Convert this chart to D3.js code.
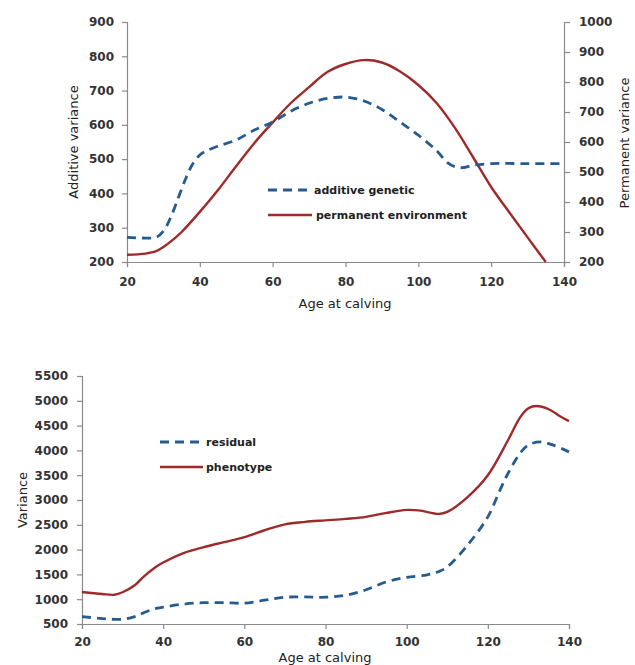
<!DOCTYPE html>
<html><head><meta charset="utf-8">
<script src="https://cdn.jsdelivr.net/npm/d3@7"></script>
<style>
body{margin:0;background:#fff;}
svg{display:block;}
.tick text{font-family:"DejaVu Sans",sans-serif;font-weight:bold;font-size:12px;fill:#333;}
.axis path,.axis line{stroke:#8a8a8a;stroke-width:1.2;}
.title{font-family:"DejaVu Sans",sans-serif;font-size:13px;fill:#222;}
.leg{font-family:"DejaVu Sans",sans-serif;font-weight:bold;font-size:11px;fill:#222;}
</style></head>
<body>
<script>
// ---- Top chart data ----
const topXTicks = [20,40,60,80,100,120,140];
const topLeftTicks = [200,300,400,500,600,700,800,900];
const topRightTicks = [200,300,400,500,600,700,800,900,1000];
const addAges = [20,24,28,30,32,34,36,38,40,42,45,50,55,60,65,70,75,80,85,90,95,100,105,108,110,112,115,120,130,140];
const addVals = [272,270,272,290,330,385,440,485,512,525,538,556,585,608,640,663,677,681,670,645,608,570,525,490,478,475,482,487,487,487];
const permAges = [20,25,28,30,33,35,40,45,50,55,60,65,70,75,80,85,90,95,100,105,110,115,120,125,130,135];
const permVals = [224,228,236,250,278,300,367,440,520,597,665,730,783,833,860,873,865,835,790,730,648,550,450,365,282,200];
// ---- Bottom chart data ----
const botXTicks = [20,40,60,80,100,120,140];
const botYTicks = [500,1000,1500,2000,2500,3000,3500,4000,4500,5000,5500];
const resAges = [20,25,30,33,35,38,40,45,50,55,60,65,70,75,80,85,90,95,100,105,108,110,115,120,123,125,128,130,133,136,140];
const resVals = [650,610,595,650,720,810,840,900,930,930,920,980,1040,1045,1040,1080,1190,1350,1440,1490,1560,1650,2090,2660,3200,3540,3950,4110,4170,4110,3970];
const phenAges = [20,25,28,30,33,35,38,40,45,50,55,60,65,70,75,80,85,90,95,100,103,108,110,115,120,125,128,130,132,135,138,140];
const phenVals = [1145,1105,1090,1140,1280,1440,1640,1740,1930,2050,2150,2250,2390,2510,2560,2590,2620,2660,2740,2800,2790,2720,2760,3060,3500,4210,4670,4850,4895,4830,4680,4590];

const BLUE = "#255b8f", RED = "#9e2a2b";
const fmt = d3.format("d");
const svg = d3.select("body").append("svg").attr("width",635).attr("height",665);

function zip(a,b){return a.map((x,i)=>[x,b[i]]);}

// ===== Top chart =====
{
  const x = d3.scaleLinear().domain([20,140]).range([127,564]);
  const yL = d3.scaleLinear().domain([200,900]).range([262,22]);
  const yR = d3.scaleLinear().domain([200,1000]).range([262,22]);
  svg.append("g").attr("class","axis").attr("transform","translate(0,262)")
    .call(d3.axisBottom(x).tickValues(topXTicks).tickFormat(fmt).tickSize(5).tickPadding(8))
    .selectAll("text").attr("dy","0.9em");
  svg.append("g").attr("class","axis").attr("transform","translate(127,0)")
    .call(d3.axisLeft(yL).tickValues(topLeftTicks).tickFormat(fmt).tickSize(5).tickPadding(8));
  svg.append("g").attr("class","axis").attr("transform","translate(564,0)")
    .call(d3.axisRight(yR).tickValues(topRightTicks).tickFormat(fmt).tickSize(6).tickPadding(9));

  const lineL = d3.line().x(d=>x(d[0])).y(d=>yL(d[1])).curve(d3.curveCatmullRom);
  const lineR = d3.line().x(d=>x(d[0])).y(d=>yR(d[1])).curve(d3.curveCatmullRom);
  svg.append("path").attr("d",lineR(zip(permAges,permVals))).attr("fill","none")
    .attr("stroke",RED).attr("stroke-width",2.4);
  svg.append("path").attr("d",lineL(zip(addAges,addVals))).attr("fill","none")
    .attr("stroke",BLUE).attr("stroke-width",2.8).attr("stroke-dasharray","9,6");

  svg.append("text").attr("class","title").attr("text-anchor","middle")
    .attr("transform","translate(78,142) rotate(-90)").text("Additive variance");
  svg.append("text").attr("class","title").attr("text-anchor","middle")
    .attr("transform","translate(629,143) rotate(-90)").text("Permanent variance");
  svg.append("text").attr("class","title").attr("text-anchor","middle")
    .attr("x",345).attr("y",308).text("Age at calving");

  // legend
  svg.append("line").attr("x1",268).attr("x2",312).attr("y1",190).attr("y2",190)
    .attr("stroke",BLUE).attr("stroke-width",2.8).attr("stroke-dasharray","9,6");
  svg.append("text").attr("class","leg").attr("x",314).attr("y",194).text("additive genetic");
  svg.append("line").attr("x1",268).attr("x2",312).attr("y1",215).attr("y2",215)
    .attr("stroke",RED).attr("stroke-width",2.4);
  svg.append("text").attr("class","leg").attr("x",316).attr("y",219).text("permanent environment");
}

// ===== Bottom chart =====
{
  const x = d3.scaleLinear().domain([20,140]).range([82,569]);
  const y = d3.scaleLinear().domain([500,5500]).range([624,376]);
  svg.append("g").attr("class","axis").attr("transform","translate(0,624)")
    .call(d3.axisBottom(x).tickValues(botXTicks).tickFormat(fmt).tickSize(5).tickPadding(7))
    .selectAll("text").attr("dy","0.8em");
  svg.append("g").attr("class","axis").attr("transform","translate(82,0)")
    .call(d3.axisLeft(y).tickValues(botYTicks).tickFormat(fmt).tickSize(5).tickPadding(9));

  const line = d3.line().x(d=>x(d[0])).y(d=>y(d[1])).curve(d3.curveCatmullRom);
  svg.append("path").attr("d",line(zip(phenAges,phenVals))).attr("fill","none")
    .attr("stroke",RED).attr("stroke-width",2.4);
  svg.append("path").attr("d",line(zip(resAges,resVals))).attr("fill","none")
    .attr("stroke",BLUE).attr("stroke-width",2.8).attr("stroke-dasharray","9,6");

  svg.append("text").attr("class","title").attr("text-anchor","middle")
    .attr("transform","translate(27,500) rotate(-90)").text("Variance");
  svg.append("text").attr("class","title").attr("text-anchor","middle")
    .attr("x",325).attr("y",662).text("Age at calving");

  svg.append("line").attr("x1",160).attr("x2",203).attr("y1",442).attr("y2",442)
    .attr("stroke",BLUE).attr("stroke-width",2.8).attr("stroke-dasharray","9,6");
  svg.append("text").attr("class","leg").attr("x",206).attr("y",446).text("residual");
  svg.append("line").attr("x1",160).attr("x2",203).attr("y1",467).attr("y2",467)
    .attr("stroke",RED).attr("stroke-width",2.4);
  svg.append("text").attr("class","leg").attr("x",206).attr("y",471).text("phenotype");
}
</script>
</body></html>
